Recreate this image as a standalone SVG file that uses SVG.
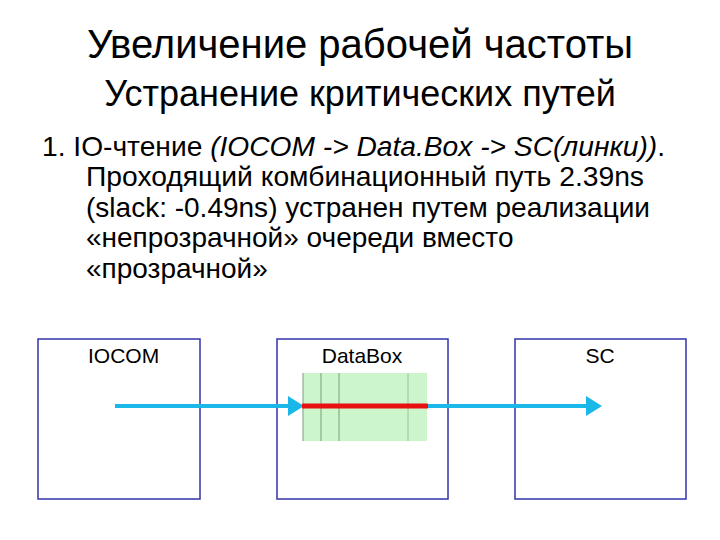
<svg xmlns="http://www.w3.org/2000/svg" width="720" height="540" viewBox="0 0 720 540">
<style>
text{font-family:"Liberation Sans",Arial,sans-serif;fill:#000}
.box{fill:#fff;stroke:#3333aa;stroke-width:1.5}
.t1{font-size:40px}.t2{font-size:36px}.b{font-size:28px}.l{font-size:21px}
.v{stroke:#7aa07a;stroke-width:1}
</style>
<defs><marker id="ah" markerWidth="5" markerHeight="5" refX="0" refY="2.5" orient="auto" markerUnits="strokeWidth"><path d="M0,0L4,2.5L0,5z" fill="#1ab8e8"/></marker></defs>
<rect width="720" height="540" fill="#fff"/>
<text class="t1" x="360" y="58" text-anchor="middle">Увеличение рабочей частоты</text>
<text class="t2" x="360" y="106" text-anchor="middle">Устранение критических путей</text>
<g class="b">
<text x="42" y="156" textLength="623" lengthAdjust="spacingAndGlyphs">1.  IO-чтение <tspan font-style="italic">(IOCOM -&gt; Data.Box -&gt; SC(линки))</tspan>.</text>
<text x="86" y="186" textLength="558" lengthAdjust="spacingAndGlyphs">Проходящий комбинационный путь 2.39ns</text>
<text x="86" y="217" textLength="564" lengthAdjust="spacingAndGlyphs">(slack: -0.49ns) устранен путем реализации</text>
<text x="86" y="247">«непрозрачной» очереди вместо</text>
<text x="86" y="278">«прозрачной»</text>
</g>
<g id="iocom"><rect class="box" x="38" y="339" width="162" height="160"/><text class="l" x="88" y="363">IOCOM</text></g>
<g id="databox"><rect class="box" x="277" y="339" width="171" height="160"/><text class="l" x="362" y="363" text-anchor="middle">DataBox</text>
<rect x="303" y="373" width="124" height="68" fill="#ccf5cc"/>
<line class="v" x1="303" y1="373" x2="303" y2="441"/><line class="v" x1="321" y1="373" x2="321" y2="441"/><line class="v" x1="339" y1="373" x2="339" y2="441"/><line class="v" x1="408" y1="373" x2="408" y2="441" stroke-opacity="0.6"/></g>
<g id="sc"><rect class="box" x="515" y="339" width="171" height="160"/><text class="l" x="600" y="363" text-anchor="middle">SC</text></g>
<g id="connectors">
<line x1="115" y1="406" x2="288" y2="406" stroke="#1ab8e8" stroke-width="4" marker-end="url(#ah)"/>
<line x1="428" y1="406" x2="586" y2="406" stroke="#1ab8e8" stroke-width="4" marker-end="url(#ah)"/>
<line x1="302" y1="406" x2="428" y2="406" stroke="#e81010" stroke-width="5"/>
</g>
</svg>
